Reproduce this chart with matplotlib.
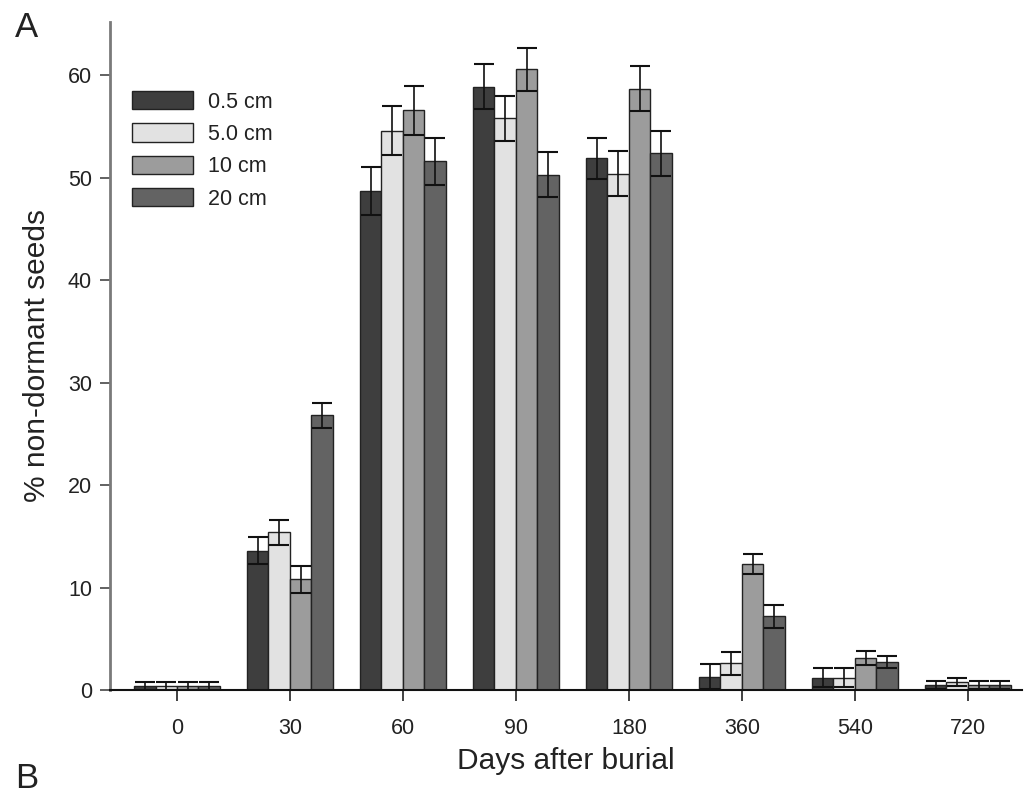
import matplotlib
matplotlib.use("Agg")
import matplotlib.pyplot as plt
import numpy as np

plt.rcParams['font.family'] = ['Liberation Sans', 'DejaVu Sans']

days = ["0", "30", "60", "90", "180", "360", "540", "720"]
depths = ["0.5 cm", "5.0 cm", "10 cm", "20 cm"]

val_05 = [0.4, 13.6, 48.7, 58.9, 51.9, 1.3, 1.2, 0.5]
err_05 = [0.4, 1.3, 2.3, 2.2, 2.0, 1.2, 0.9, 0.4]
val_50 = [0.4, 15.4, 54.6, 55.8, 50.4, 2.6, 1.2, 0.8]
err_50 = [0.4, 1.2, 2.4, 2.2, 2.2, 1.1, 0.9, 0.4]
val_10 = [0.4, 10.8, 56.6, 60.6, 58.7, 12.3, 3.1, 0.5]
err_10 = [0.4, 1.3, 2.4, 2.1, 2.2, 1.0, 0.7, 0.4]
val_20 = [0.4, 26.8, 51.6, 50.3, 52.4, 7.2, 2.7, 0.5]
err_20 = [0.4, 1.2, 2.3, 2.2, 2.2, 1.1, 0.6, 0.4]

values = [val_05, val_50, val_10, val_20]
errors = [err_05, err_50, err_10, err_20]
colors = ["#3e3e3e", "#e2e2e2", "#9c9c9c", "#636363"]

W, H = 1028, 794
fig = plt.figure(figsize=(W / 100, H / 100), dpi=100)
ax = fig.add_axes([110 / W, 1 - 690 / H, (1022 - 110) / W, (690 - 22) / H])

x = np.arange(len(days))
bw = 0.19
for i, (v, e, c, lab) in enumerate(zip(values, errors, colors, depths)):
    pos = x + (i - 1.5) * bw
    ax.bar(pos, v, width=bw, color=c, edgecolor="#222222", linewidth=1.0,
           label=lab, zorder=2)
    ax.errorbar(pos, v, yerr=e, fmt='none', ecolor="#111111", elinewidth=1.2,
                capsize=7, capthick=1.5, zorder=3)

ax.set_xlim(-0.593, 7.48)
ax.set_ylim(0, 65.2)
ax.set_yticks([0, 10, 20, 30, 40, 50, 60])
ax.set_xticks(x)
ax.set_xticklabels(days)

for s in ["top", "right"]:
    ax.spines[s].set_visible(False)
ax.spines["left"].set_color("#7a7a7a")
ax.spines["left"].set_linewidth(2.0)
ax.spines["bottom"].set_color("#111111")
ax.spines["bottom"].set_linewidth(1.5)

ax.tick_params(axis="y", direction="out", length=7, width=1.3, color="#555555",
               labelsize=15.5, labelcolor="#222222", pad=6)
ax.tick_params(axis="x", direction="out", length=8, width=1.3, color="#333333",
               labelsize=15.5, labelcolor="#222222", pad=12)

ax.set_xlabel("Days after burial", fontsize=21.5, color="#222222", labelpad=6)
ax.set_ylabel("% non-dormant seeds", fontsize=21.5, color="#222222", labelpad=12)

leg = ax.legend(loc="upper left", bbox_to_anchor=(132 / W, 1 - 91 / H),
                bbox_transform=fig.transFigure, frameon=False, fontsize=15.5,
                handlelength=2.84, handleheight=0.93, labelspacing=0.5,
                handletextpad=0.7, borderpad=0, borderaxespad=0)
for t in leg.get_texts():
    t.set_color("#222222")

fig.text(15 / W, 1 - 37 / H, "A", fontsize=25, color="#222222", ha="left", va="baseline")
fig.text(15 / W, 1 - 788 / H, "B", fontsize=25, color="#222222", ha="left", va="baseline")

fig.savefig("out.png", dpi=100)
